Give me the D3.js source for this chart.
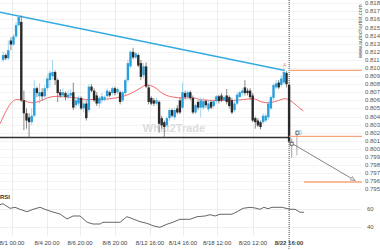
<!DOCTYPE html>
<html lang="en">
<head>
<meta charset="utf-8">
<title>Triangle breakout with RSI</title>
<script src="https://d3js.org/d3.v7.min.js"></script>
<style>
  body { margin: 0; background: #fff; }
  text { font-family: "Liberation Sans", Arial, sans-serif; }
</style>
</head>
<body>
<script>
// candle prices, one entry per candle (index 0..110)
var openP = [.8110,.8116,.8112,.8134,.8129,.8139,.8153,.8157,.8060,.8044,
  .8039,.8033,.8041,.8075,.8065,.8070,.8065,.8075,.8085,.8090,
  .8095,.8085,.8070,.8066,.8069,.8064,.8066,.8070,.8054,.8056,
  .8063,.8050,.8056,.8048,.8077,.8072,.8066,.8056,.8060,.8061,
  .8065,.8070,.8069,.8075,.8070,.8070,.8060,.8069,.8085,.8102,
  .8120,.8113,.8116,.8106,.8091,.8102,.8076,.8063,.8060,.8056,
  .8058,.8038,.8033,.8029,.8038,.8048,.8039,.8050,.8060,.8051,
  .8069,.8064,.8070,.8063,.8045,.8058,.8051,.8051,.8059,.8049,
  .8058,.8053,.8059,.8065,.8066,.8060,.8066,.8064,.8060,.8048,
  .8056,.8064,.8069,.8076,.8072,.8072,.8066,.8038,.8035,.8033,
  .8033,.8035,.8039,.8050,.8063,.8076,.8082,.8079,.8082,.8094,
  .8079];
var highP = [.8120,.8118,.8134,.8138,.8142,.8157,.8165,.8165,.8072,.8050,
  .8044,.8050,.8085,.8077,.8081,.8075,.8079,.8092,.8097,.8110,
  .8097,.8087,.8074,.8075,.8071,.8072,.8074,.8082,.8063,.8066,
  .8065,.8060,.8060,.8080,.8080,.8075,.8070,.8065,.8069,.8066,
  .8075,.8072,.8077,.8077,.8076,.8072,.8072,.8087,.8110,.8122,
  .8125,.8120,.8118,.8110,.8106,.8107,.8079,.8065,.8063,.8063,
  .8060,.8041,.8035,.8040,.8050,.8050,.8051,.8054,.8063,.8082,
  .8072,.8072,.8072,.8066,.8056,.8060,.8063,.8063,.8061,.8060,
  .8060,.8061,.8067,.8067,.8069,.8066,.8074,.8066,.8063,.8059,
  .8070,.8072,.8075,.8085,.8075,.8075,.8069,.8040,.8038,.8035,
  .8044,.8044,.8059,.8066,.8081,.8085,.8085,.8091,.8100,.8096,
  .8081];
var lowP = [.8107,.8110,.8110,.8122,.8127,.8137,.8151,.8058,.8023,.8025,
  .8013,.8029,.8039,.8064,.8056,.8060,.8063,.8072,.8076,.8086,
  .8079,.8058,.8063,.8064,.8060,.8061,.8064,.8048,.8050,.8053,
  .8048,.8045,.8035,.8045,.8070,.8058,.8053,.8051,.8056,.8059,
  .8064,.8064,.8066,.8066,.8067,.8055,.8058,.8066,.8082,.8100,
  .8111,.8111,.8101,.8085,.8087,.8075,.8055,.8054,.8053,.8054,
  .8020,.8025,.8014,.8027,.8035,.8039,.8036,.8043,.8043,.8049,
  .8061,.8061,.8060,.8043,.8043,.8048,.8039,.8048,.8051,.8046,
  .8049,.8050,.8056,.8056,.8058,.8059,.8055,.8050,.8043,.8045,
  .8054,.8063,.8066,.8066,.8066,.8061,.8033,.8025,.8027,.8024,
  .8030,.8033,.8036,.8048,.8060,.8074,.8074,.8076,.8080,.8076,
  .8007];
var closeP = [.8116,.8112,.8122,.8129,.8139,.8153,.8163,.8060,.8044,.8035,
  .8033,.8041,.8075,.8069,.8070,.8065,.8075,.8087,.8094,.8095,
  .8085,.8069,.8066,.8070,.8064,.8067,.8069,.8051,.8060,.8063,
  .8050,.8056,.8038,.8077,.8072,.8060,.8056,.8063,.8065,.8064,
  .8072,.8066,.8075,.8069,.8074,.8058,.8070,.8085,.8106,.8120,
  .8113,.8118,.8103,.8089,.8102,.8077,.8058,.8056,.8056,.8060,
  .8031,.8029,.8027,.8038,.8048,.8041,.8048,.8045,.8045,.8070,
  .8064,.8070,.8063,.8045,.8054,.8051,.8060,.8059,.8054,.8056,
  .8051,.8059,.8065,.8059,.8060,.8064,.8058,.8053,.8045,.8056,
  .8067,.8070,.8072,.8069,.8069,.8064,.8035,.8033,.8029,.8027,
  .8041,.8041,.8056,.8064,.8079,.8081,.8076,.8087,.8095,.8080,
  .8009];

// candles drawn after the signal time
var afterIdx = [111, 113];
var afterOpen = [.8009, .8017];
var afterHigh = [.8013, .8023];
var afterLow = [.7989, .7992];
var afterClose = [.8004, .8019];

// moving average (candle index, price)
var maIdx = [-1.2,5.2,7.8,11,14.2,18,21.2,24.5,28.3,32.2,37.3,41.1,45,48.8,52.7,55.2,57.8,61.6,65.5,69.3,
  73.2,75.7,79.6,83.4,88.5,92.4,96.2,99.5,102,105.2,108.4,110.3,114.2,115.5];
var maVal = [.8031,.8061,.8060,.8057,.8059,.8064,.8065,.8064,.8063,.8061,.8061,.8062,.8064,.8068,.8075,.8079,.8077,.8068,.8064,.8063,
  .8063,.8061,.8060,.8060,.8060,.8061,.8062,.8058,.8057,.8059,.8062,.8060,.8050,.8047];

// RSI (candle index, value)
var rsiIdx = [-1.2,-0.8,0.1,2.7,4.6,6.5,9.2,11.5,14.2,16.1,18.8,21.9,24.6,26.9,29.6,32.3,34.6,37.3,38.4,45,
  47.6,50,52.7,55.3,57.7,60.3,63,65.3,68,71.9,74.6,77.7,79.6,81.5,83.4,88,90,92.3,95,96.9,
  98.8,100.3,101.9,103.4,107.3,110.3,112.3,114.2,115.7];
var rsiVal = [64.9,66.1,66.1,61.1,62.3,60,57.2,60,62.3,60,57.2,54.6,48.9,52.3,52.3,45.1,43.1,43.1,45.1,45.1,
  51.5,48.9,45.7,43.9,41.1,39.3,42.8,45.1,48.5,48.5,51.5,52.3,53.8,52.3,54.3,54.3,57.2,61.1,62.3,61.5,
  60,62.3,60.7,62.3,62.3,60,60,56.6,56.6];

// pattern lines and levels
var resistance = [[-1.2, .8169], [108.4, .8097]];
var support = [[-1.2, .8014], [110, .8014]];
var levels = [[110, 138, .8097], [110, 138, .80155], [115.7, 138, .7959]];
var forecast = [[111.1, .80067], [135.4, .79608]];
var markers = [[111, .80063], [113.2, .8020]];

// axis ticks
var priceTicks = d3.range(795, 819).map(function(v) { return v / 1000; });
var rsiTicks = [60, 40];
var timeIdx = [3.4, 16.9, 29.6, 43.0, 56.5, 69.2, 82.3, 96.1, 110];
var timeLabels = ["8/1 00:00", "8/4 20:00", "8/6 20:00", "8/8 20:00", "8/12 16:00",
  "8/14 16:00", "8/18 12:00", "8/20 12:00", "8/22 16:00"];
var signalIdx = 110;

var width = 380, height = 250;
var svg = d3.select("body").append("svg")
  .attr("width", width).attr("height", height);

var x = d3.scaleLinear().domain([0, 110]).range([3.1, 289.1]);
var y = d3.scaleLinear().domain([0.795, 0.818]).range([189.3, 3.3]);
var yr = d3.scaleLinear().domain([40, 60]).range([226.7, 209.3]);

// grid
svg.append("g").selectAll("line").data(priceTicks).enter().append("line")
  .attr("x1", 0).attr("x2", 362)
  .attr("y1", function(d) { return Math.round(y(d)) + 0.5; })
  .attr("y2", function(d) { return Math.round(y(d)) + 0.5; })
  .attr("stroke", "#f3f3f3");
svg.append("g").selectAll("line").data(rsiTicks).enter().append("line")
  .attr("x1", 0).attr("x2", 362)
  .attr("y1", function(d) { return Math.round(yr(d)) + 0.5; })
  .attr("y2", function(d) { return Math.round(yr(d)) + 0.5; })
  .attr("stroke", "#eeeeee");
svg.append("g").selectAll("line").data(timeIdx).enter().append("line")
  .attr("x1", function(d) { return Math.round(x(d)) + 0.5; })
  .attr("x2", function(d) { return Math.round(x(d)) + 0.5; })
  .attr("y1", 0).attr("y2", 236)
  .attr("stroke", "#ececec");

// watermark
svg.append("text").attr("x", 174).attr("y", 132)
  .attr("text-anchor", "middle").attr("font-size", 11).attr("font-weight", "bold")
  .attr("fill", "#dcdcdc").text("What2Trade");

// signal time line
svg.append("line")
  .attr("x1", x(signalIdx)).attr("x2", x(signalIdx))
  .attr("y1", 0).attr("y2", 250)
  .attr("stroke", "#555").attr("stroke-dasharray", "1,1");

// resistance / support
var pline = d3.line().x(function(d) { return x(d[0]); }).y(function(d) { return y(d[1]); });
svg.append("path").attr("d", pline(resistance))
  .attr("fill", "none").attr("stroke", "#33aae2").attr("stroke-width", 1.6);
svg.append("path").attr("d", pline(support))
  .attr("fill", "none").attr("stroke", "#333").attr("stroke-width", 1.6);

// moving average
var maLine = d3.line().curve(d3.curveMonotoneX)
  .x(function(d, i) { return x(maIdx[i]); })
  .y(function(d) { return y(d); });
svg.append("path").attr("d", maLine(maVal))
  .attr("fill", "none").attr("stroke", "#f06a6a").attr("stroke-width", 1);

// candles
function drawCandles(idx, o, h, l, c, bodyBull, bodyBear, wickBull, wickBear) {
  var g = svg.append("g");
  idx.forEach(function(k, i) {
    var bull = c[i] >= o[i];
    var cx = x(k);
    g.append("line")
      .attr("x1", cx).attr("x2", cx)
      .attr("y1", y(h[i])).attr("y2", y(l[i]))
      .attr("stroke", bull ? wickBull : wickBear).attr("stroke-width", 0.8);
    var top = y(Math.max(o[i], c[i])), bot = y(Math.min(o[i], c[i]));
    g.append("rect")
      .attr("x", cx - 1.2).attr("width", 2.4)
      .attr("y", top).attr("height", Math.max(1, bot - top))
      .attr("fill", bull ? bodyBull : bodyBear);
  });
}
drawCandles(d3.range(closeP.length), openP, highP, lowP, closeP,
  "#2b9fdb", "#2a2a2a", "#8ccdee", "#6a6a6a");
drawCandles(afterIdx, afterOpen, afterHigh, afterLow, afterClose,
  "#9a9a9a", "#8a8a8a", "#9a9a9a", "#8a8a8a");

// levels
svg.append("g").selectAll("line").data(levels).enter().append("line")
  .attr("x1", function(d) { return x(d[0]); })
  .attr("x2", function(d) { return x(d[1]); })
  .attr("y1", function(d) { return y(d[2]); })
  .attr("y2", function(d) { return y(d[2]); })
  .attr("stroke", "#f7a67c").attr("stroke-width", 1.3);

// forecast arrow
svg.append("defs").append("marker")
  .attr("id", "arr").attr("viewBox", "0 0 10 10")
  .attr("refX", 9).attr("refY", 5)
  .attr("markerWidth", 6).attr("markerHeight", 6)
  .attr("orient", "auto")
  .append("path").attr("d", "M0,1 L9,5 L0,9 Z")
  .attr("fill", "#ddd").attr("stroke", "#777").attr("stroke-width", 1);
svg.append("path").attr("d", pline(forecast))
  .attr("stroke", "#777").attr("stroke-width", 0.9).attr("fill", "none")
  .attr("marker-end", "url(#arr)");
svg.append("g").selectAll("rect").data(markers).enter().append("rect")
  .attr("x", function(d) { return x(d[0]) - 1.5; })
  .attr("y", function(d) { return y(d[1]) - 1.5; })
  .attr("width", 3).attr("height", 3)
  .attr("fill", "#fff").attr("stroke", "#555").attr("stroke-width", 0.8);

// pattern point labels
svg.append("text").attr("x", x(108.3)).attr("y", y(.8097) - 3)
  .attr("text-anchor", "middle").attr("font-size", 5).attr("fill", "#f28a5c").text("A");
svg.append("text").attr("x", x(114.2)).attr("y", y(.80155) - 1)
  .attr("text-anchor", "middle").attr("font-size", 7).attr("fill", "#6cc0ec").text("0");

// RSI
svg.append("text").attr("x", 0).attr("y", 199)
  .attr("font-size", 6).attr("font-weight", "bold").attr("fill", "#333").text("RSI");
var rsiLine = d3.line()
  .x(function(d, i) { return x(rsiIdx[i]); })
  .y(function(d) { return yr(d); });
svg.append("path").attr("d", rsiLine(rsiVal))
  .attr("fill", "none").attr("stroke", "#555").attr("stroke-width", 0.9);

// right axis labels
svg.append("g").selectAll("text").data(priceTicks).enter().append("text")
  .attr("x", 365).attr("y", function(d) { return y(d) + 2; })
  .attr("font-size", 6).attr("fill", "#555")
  .text(function(d) { return d3.format(".3f")(d); });
svg.append("g").selectAll("text").data(rsiTicks).enter().append("text")
  .attr("x", 367).attr("y", function(d) { return yr(d) + 2; })
  .attr("font-size", 6).attr("fill", "#555")
  .text(function(d) { return d; });

// vertical site label
svg.append("text")
  .attr("transform", "translate(362,58) rotate(-90)")
  .attr("font-size", 5.5).attr("fill", "#555")
  .text("www.autochartist.com");

// time labels
svg.append("g").selectAll("text").data(timeIdx).enter().append("text")
  .attr("x", function(d) { return x(d); }).attr("y", 245)
  .attr("text-anchor", "middle").attr("font-size", 6)
  .attr("font-weight", function(d, i) { return i === timeIdx.length - 1 ? "bold" : "normal"; })
  .attr("fill", "#444")
  .text(function(d, i) { return timeLabels[i]; });
</script>
</body>
</html>
